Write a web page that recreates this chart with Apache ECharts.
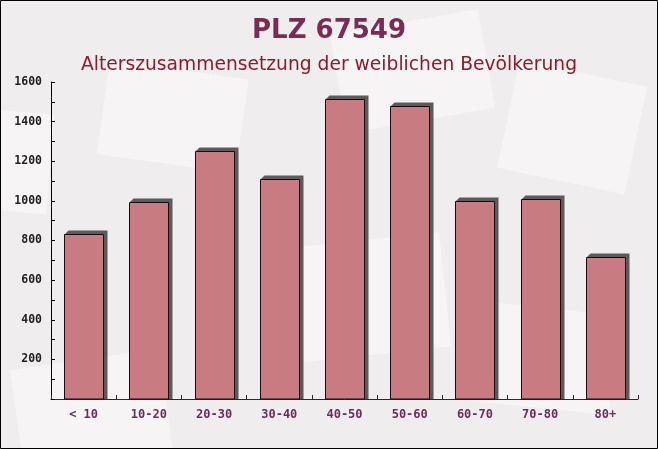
<!DOCTYPE html>
<html><head><meta charset="utf-8">
<script src="https://cdn.jsdelivr.net/npm/echarts@6/dist/echarts.min.js"></script>
<style>html,body{margin:0;padding:0;background:#f2eff1}#c{width:658px;height:449px}</style>
</head><body><div id="c"></div>
<script>
const categories = ['< 10','10-20','20-30','30-40','40-50','50-60','60-70','70-80','80+'];
const values = [832, 993, 1251, 1109, 1513, 1478, 1000, 1008, 715];
const titleText = 'PLZ 67549';
const subtitleText = 'Alterszusammensetzung der weiblichen Bevölkerung';

const chart = echarts.init(document.getElementById('c'), null, {renderer:'canvas'});
function env(x,y,w,h,rot){
  return {type:'rect', x:x, y:y, rotation:rot*Math.PI/180, originX:0, originY:0,
    shape:{x:0,y:0,width:w,height:h}, style:{fill:'rgba(255,255,255,0.4)'}, z:-10, silent:true};
}
const BAR_W = 39, SH = 4;
function renderBar(params, api){
  const v = api.value(1);
  const top = api.coord([api.value(0), v]);
  const bot = api.coord([api.value(0), 0]);
  const x = Math.round(top[0] - BAR_W/2) + 0.5;
  const yt = Math.round(top[1]) + 0.5;
  const yb = Math.round(bot[1]);
  return {type:'group', children:[
    {type:'polygon', shape:{points:[[x,yt],[x+SH,yt-SH],[x+BAR_W+SH,yt-SH],[x+BAR_W+SH,yb],[x+BAR_W,yb],[x+BAR_W,yt]]},
      style:{fill:'#5c5a5b'}},
    {type:'rect', shape:{x:x, y:yt, width:BAR_W, height:yb-yt},
      style:{fill:'#c87c82', stroke:'#1a0a10', lineWidth:1}}
  ]};
}
chart.setOption({
  backgroundColor:'#f0edef',
  animation:false,
  graphic:[
    env(110,60,140,95,-8),
    env(330,35,150,100,10),
    env(270,250,170,115,6),
    env(0,110,55,100,-5),
    env(10,370,150,100,8),
    env(520,60,130,110,-12),
    env(470,300,150,100,-6),
    {type:'rect', shape:{x:0.5,y:0.5,width:657,height:448}, style:{fill:'none',stroke:'#000',lineWidth:1}, z:100, silent:true}
  ],
  title:[
    {text:titleText, left:'center', top:13, textStyle:{fontFamily:'DejaVu Sans', fontWeight:'bold', fontSize:26, color:'#7a2b56'}},
    {text:subtitleText, left:'center', top:51, textStyle:{fontFamily:'DejaVu Sans', fontWeight:'normal', fontSize:18.7, color:'#8b1c2a'}}
  ],
  grid:{left:51, right:20, top:82, bottom:50},
  xAxis:{
    type:'category', data:categories,
    axisLine:{lineStyle:{color:'#3a2030', width:1}},
    axisTick:{show:true, inside:true, length:4, lineStyle:{color:'#3a2030'}},
    axisLabel:{fontFamily:'DejaVu Sans Mono', fontWeight:'bold', fontSize:12, color:'#6b2d5a', margin:10}
  },
  yAxis:{
    type:'value', min:0, max:1600, interval:200,
    axisLine:{show:true, lineStyle:{color:'#000'}},
    axisTick:{show:true, inside:true, length:4, lineStyle:{color:'#000'}},
    minorTick:{show:true, splitNumber:2, length:4, lineStyle:{color:'#000'}},
    splitLine:{show:false},
    axisLabel:{fontFamily:'DejaVu Sans Mono', fontWeight:'bold', fontSize:11.5, color:'#222', margin:9,
      formatter:function(v){return v===0?'':String(v);}}
  },
  series:[{
    type:'custom', renderItem:renderBar, encode:{x:0, y:1},
    data:values.map(function(v,i){return [i, v];})
  }]
});
</script></body></html>
